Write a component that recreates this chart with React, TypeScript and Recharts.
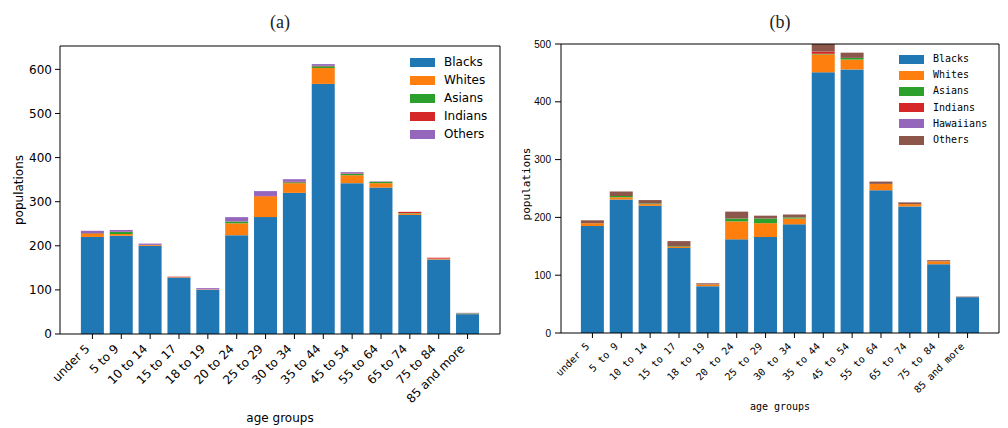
import React from "react";
import { BarChart, Bar, XAxis, YAxis, Legend, ReferenceLine } from "recharts";

const AGE_GROUPS = [
  "under 5", "5 to 9", "10 to 14", "15 to 17", "18 to 19", "20 to 24", "25 to 29",
  "30 to 34", "35 to 44", "45 to 54", "55 to 64", "65 to 74", "75 to 84", "85 and more",
];

// chart (a)
const A_BLACKS = [220, 223, 200, 128, 100, 224, 265, 320, 567, 342, 332, 270, 169, 45];
const A_WHITES = [7, 4, 2, 1, 1, 27, 47, 22, 36, 18, 10, 3, 2, 1];
const A_ASIANS = [1, 4, 0, 0, 0, 4, 0, 2, 4, 3, 3, 1, 0, 1];
const A_INDIANS = [1, 1, 0, 1, 0, 0, 1, 1, 1, 1, 0, 3, 2, 0];
const A_OTHERS = [5, 4, 3, 0, 3, 10, 11, 6, 4, 3, 1, 0, 0, 1];
const A_TICKS = [0, 100, 200, 300, 400, 500, 600];
const A_MAX = 653;

// chart (b)
const B_BLACKS = [185, 231, 220, 147, 81, 162, 166, 188, 451, 456, 247, 219, 119, 62];
const B_WHITES = [5, 4, 3, 2, 3, 31, 24, 10, 31, 17, 11, 4, 5, 0];
const B_ASIANS = [0, 2, 1, 1, 0, 5, 8, 2, 1, 3, 0, 0, 0, 0];
const B_INDIANS = [0, 0, 0, 0, 0, 0, 0, 0, 4, 0, 0, 0, 0, 0];
const B_HAWAIIANS = [0, 0, 0, 0, 0, 0, 0, 0, 0, 0, 0, 0, 0, 0];
const B_OTHERS = [5, 8, 6, 9, 2, 12, 5, 5, 13, 9, 4, 3, 2, 1];
const B_TICKS = [0, 100, 200, 300, 400, 500];
const B_MAX = 500;

const COLORS: Record<string, string> = {
  Blacks: "#1f77b4",
  Whites: "#ff7f0e",
  Asians: "#2ca02c",
  Indians: "#d62728",
  Hawaiians: "#9467bd",
  Others: "#8c564b",
};

const A_SERIES = ["Blacks", "Whites", "Asians", "Indians", "Others"];
const A_COLORS = { ...COLORS, Others: "#9467bd" } as Record<string, string>;
const B_SERIES = ["Blacks", "Whites", "Asians", "Indians", "Hawaiians", "Others"];

const dataA = AGE_GROUPS.map((group, i) => ({
  group,
  Blacks: A_BLACKS[i],
  Whites: A_WHITES[i],
  Asians: A_ASIANS[i],
  Indians: A_INDIANS[i],
  Others: A_OTHERS[i],
}));

const dataB = AGE_GROUPS.map((group, i) => ({
  group,
  Blacks: B_BLACKS[i],
  Whites: B_WHITES[i],
  Asians: B_ASIANS[i],
  Indians: B_INDIANS[i],
  Hawaiians: B_HAWAIIANS[i],
  Others: B_OTHERS[i],
}));

const SANS = "'DejaVu Sans', sans-serif";
const MONO = "'DejaVu Sans Mono', monospace";

const TickA = ({ x, y, payload }: any) => (
  <g transform={`translate(${x - 2},${y + 8.5})`}>
    <text x={0} y={0} textAnchor="end" transform="rotate(-45)" fontFamily={SANS} fontSize={12} fill="#000">
      {payload.value}
    </text>
  </g>
);

const TickB = ({ x, y, payload }: any) => (
  <g transform={`translate(${x - 2.5},${y + 7})`}>
    <text x={0} y={0} textAnchor="end" transform="rotate(-45)" fontFamily={MONO} fontSize={10} fill="#000">
      {payload.value}
    </text>
  </g>
);

const LegendBox = ({ series, colors, rowH, font, size }: any) => (
  <div>
    {series.map((s: string) => (
      <div key={s} style={{ display: "flex", alignItems: "center", height: rowH }}>
        <div style={{ width: 25, height: 9, background: colors[s], flexShrink: 0 }} />
        <span style={{ marginLeft: 9, fontFamily: font, fontSize: size, color: "#000", lineHeight: 1 }}>{s}</span>
      </div>
    ))}
  </div>
);

const Title = ({ text, cx }: { text: string; cx: number }) => (
  <div
    style={{
      position: "absolute", left: cx - 30, width: 60, top: 10, textAlign: "center",
      fontFamily: "'Liberation Serif', serif", fontSize: 18, lineHeight: "24px", color: "#222",
    }}
  >
    {text}
  </div>
);

export default function App() {
  return (
    <div style={{ position: "relative", width: 1008, height: 428, background: "#fff", overflow: "hidden" }}>
      <style>{"body{margin:0}"}</style>
      <Title text="(a)" cx={280} />
      <Title text="(b)" cx={780} />

      <div style={{ position: "absolute", left: 0, top: 0 }}>
        <BarChart width={504} height={428} data={dataA} margin={{ top: 46, right: 3, left: 0, bottom: 0 }} barCategoryGap="10%">
          <XAxis
            dataKey="group"
            height={94}
            interval={0}
            padding={{ left: 18, right: 18 }}
            tick={<TickA />}
            tickSize={5}
            tickMargin={2}
            tickLine={{ stroke: "#000" }}
            axisLine={{ stroke: "#000" }}
            label={{
              value: "age groups",
              content: () => (
                <text x={280} y={422} textAnchor="middle" fontFamily={SANS} fontSize={12} fill="#000">age groups</text>
              ),
            }}
          />
          <YAxis
            width={60}
            domain={[0, A_MAX]}
            ticks={A_TICKS}
            tickSize={5}
            tickMargin={3}
            tick={{ fontFamily: SANS, fontSize: 12, fill: "#000" }}
            tickLine={{ stroke: "#000" }}
            axisLine={{ stroke: "#000" }}
            label={{
              value: "populations",
              content: () => (
                <text x={19} y={190} transform="rotate(-90 19 190)" textAnchor="middle" dominantBaseline="central" fontFamily={SANS} fontSize={12} fill="#000">
                  populations
                </text>
              ),
            }}
          />
          <YAxis yAxisId="right" orientation="right" type="number" domain={[0, 1]} ticks={[]} width={1} tick={false} tickLine={false} axisLine={{ stroke: "#000" }} />
          <ReferenceLine y={A_MAX} stroke="#000" />
          <Legend
            layout="vertical"
            align="center"
            verticalAlign="middle"
            wrapperStyle={{ left: 410, top: 53 }}
            content={() => <LegendBox series={A_SERIES} colors={A_COLORS} rowH={18} font={SANS} size={12} />}
          />
          {A_SERIES.map((s) => (
            <Bar key={s} dataKey={s} stackId="a" fill={A_COLORS[s]} isAnimationActive={false} />
          ))}
        </BarChart>
      </div>

      <div style={{ position: "absolute", left: 504, top: 0 }}>
        <BarChart width={504} height={428} data={dataB} margin={{ top: 44, right: 8, left: 0, bottom: 0 }} barCategoryGap="10%">
          <XAxis
            dataKey="group"
            height={95}
            interval={0}
            padding={{ left: 17, right: 17 }}
            tick={<TickB />}
            tickSize={5}
            tickMargin={2}
            tickLine={{ stroke: "#000" }}
            axisLine={{ stroke: "#000" }}
            label={{
              value: "age groups",
              content: () => (
                <text x={276} y={410} textAnchor="middle" fontFamily={MONO} fontSize={10} fill="#000">age groups</text>
              ),
            }}
          />
          <YAxis
            width={57}
            domain={[0, B_MAX]}
            allowDataOverflow
            ticks={B_TICKS}
            tickSize={6}
            tickMargin={4}
            tick={{ fontFamily: "'Liberation Sans', sans-serif", fontSize: 10, fill: "#000" }}
            tickLine={{ stroke: "#000" }}
            axisLine={{ stroke: "#000" }}
            label={{
              value: "populations",
              content: () => (
                <text x={22} y={184} transform="rotate(-90 22 184)" textAnchor="middle" dominantBaseline="central" fontFamily={MONO} fontSize={11} fill="#000">
                  populations
                </text>
              ),
            }}
          />
          <YAxis yAxisId="right" orientation="right" type="number" domain={[0, 1]} ticks={[]} width={1} tick={false} tickLine={false} axisLine={{ stroke: "#000" }} />
          <ReferenceLine y={B_MAX} stroke="#000" />
          <Legend
            layout="vertical"
            align="center"
            verticalAlign="middle"
            wrapperStyle={{ left: 395, top: 51 }}
            content={() => <LegendBox series={B_SERIES} colors={COLORS} rowH={16.2} font={MONO} size={10} />}
          />
          {B_SERIES.map((s) => (
            <Bar key={s} dataKey={s} stackId="b" fill={COLORS[s]} isAnimationActive={false} />
          ))}
        </BarChart>
      </div>
    </div>
  );
}
